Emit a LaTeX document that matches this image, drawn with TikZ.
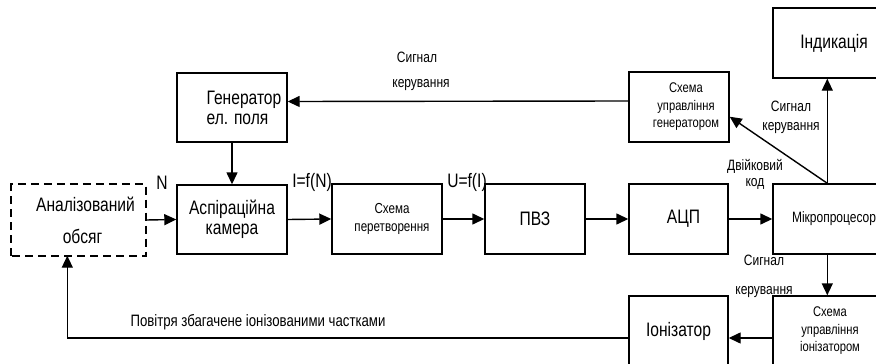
\documentclass[tikz,border=0pt]{standalone}
\usepackage{fontspec}
\setmainfont{Liberation Sans}[FakeStretch=0.8]
\usetikzlibrary{arrows.meta,calc}
\newcommand\fbig{\fontsize{19.5}{20}\selectfont}
\newcommand\fmid{\fontsize{14.5}{18}\selectfont}
\newcommand\flab{\fontsize{15}{19}\selectfont}
\begin{document}
\begin{tikzpicture}[x=1pt,y=-1pt,
  blk/.style={draw,line width=1.4pt,inner sep=0pt,align=center,minimum height=69pt},
  arr/.style={line width=1.4pt,-{Triangle[length=12pt,width=11pt]}},
  lab/.style={inner sep=0pt,font=\flab,align=center}]
\clip (0,0) rectangle (876,364);
\fill[white] (0,0) rectangle (876,364);
% blocks
\node[blk,draw=none,minimum width=133pt,minimum height=70pt,font=\fontsize{19.5}{32}\selectfont] (an) at (78.5,220) {\hspace*{14pt}Аналізований\\\hspace*{8pt}обсяг};
\draw[line width=2pt,dash pattern=on 8pt off 5pt] (an.south west) rectangle (an.north east);
\node[blk,minimum width=110pt,align=left,font=\fbig] (gen) at (232,107.5) {\hspace*{24pt}Генератор\\\hspace*{24pt}ел. поля};
\node[blk,minimum width=110pt,font=\fbig] (asp) at (232,219.5) {Аспіраційна\\камера};
\node[blk,minimum width=110pt,minimum height=70pt,font=\fmid] (sch) at (387,219) {\hspace*{10pt}Схема\\\hspace*{10pt}перетворення};
\node[blk,minimum width=100pt,minimum height=70pt,font=\fbig] (pvz) at (535,219) {ПВЗ};
\node[blk,minimum width=99pt,minimum height=70pt,font=\fbig] (adc) at (678.5,219) {\hspace*{10pt}АЦП};
\node[blk,minimum width=122pt,minimum height=70pt,font=\flab] (mcu) at (834,219) {Мікропроцесор};
\node[blk,minimum width=122pt,minimum height=70pt,font=\fbig] (ind) at (834,43) {Індикація};
\node[blk,minimum width=100pt,minimum height=70pt,font=\fontsize{14}{17.5}\selectfont] (sug) at (679,107) {\hspace*{14pt}Схема\\\hspace*{14pt}управління\\\hspace*{14pt}генератором};
\node[blk,minimum width=120pt,minimum height=70pt,font=\fontsize{14}{17.5}\selectfont] (sui) at (833,331) {\hspace*{-6pt}Схема\\\hspace*{-6pt}управління\\\hspace*{-6pt}іонізатором};
\node[blk,minimum width=99pt,minimum height=70pt,font=\fbig] (ion) at (678.5,331) {Іонізатор};
% coordinates
\coordinate (mt) at ($(mcu.north west)+(55,0)$);
\coordinate (mb) at ($(mcu.south west)+(55,0)$);
\coordinate (aret) at ($(an.south west)+(56,0)$);
% connectors
\draw[arr] (an.east) -- (asp.west);
\draw[arr] (gen.south) -- (asp.north);
\draw[arr] (asp.east) -- (sch.west);
\draw[arr] (sch.east) -- (pvz.west);
\draw[arr] (pvz.east) -- (adc.west);
\draw[arr] (adc.east) -- (mcu.west);
\draw[arr] (mt) -- (mt |- ind.south);
\draw[arr] (mt) -- ($(sug.south east)+(0,-26)$);
\draw[arr] ($(sug.west)+(0,-6)$) -- ($(gen.east)+(0,-6)$);
\draw[arr] (mb) -- (mb |- sui.north);
\draw[arr] ($(sui.west)+(0,7)$) -- ($(ion.east)+(0,7)$);
\draw[arr] ($(ion.west)+(0,7)$) -| (aret);
% labels
\node[lab,font=\fbig] at (162,183) {N};
\node[lab,font=\fbig] at (312,182) {I=f(N)};
\node[lab,font=\fbig] at (467,182) {U=f(I)};
\node[lab] at (417,57) {Сигнал};
\node[lab] at (421,85) {керування};
\node[lab] at (791,117) {Сигнал\\керування};
\node[lab,font=\fontsize{15}{16}\selectfont] at (755,174) {Двійковий\\код};
\node[lab] at (764,260) {Сигнал};
\node[lab] at (764,292) {керування};
\node[lab,font=\fontsize{16.5}{18}\selectfont] at (258,322) {Повітря збагачене іонізованими частками};
\end{tikzpicture}
\end{document}
